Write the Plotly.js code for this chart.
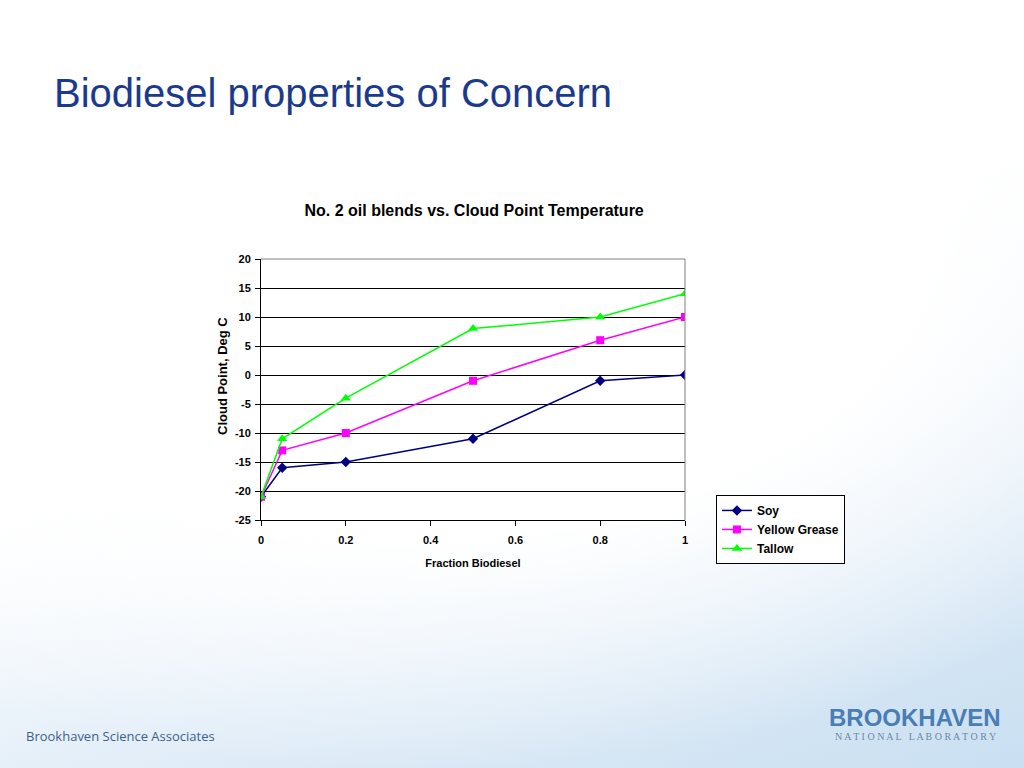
<!DOCTYPE html>
<html>
<head>
<meta charset="utf-8">
<script src="https://cdn.plot.ly/plotly-3.0.1.min.js"></script>
<style>
html,body{margin:0;padding:0;}
body{width:1024px;height:768px;overflow:hidden;
background:
 radial-gradient(ellipse 900px 520px at 420px 250px, rgba(255,255,255,1) 55%, rgba(255,255,255,0) 100%),
 linear-gradient(160deg, #ffffff 0%, #ffffff 45%, #e3eef8 70%, #c9dff1 100%);}
#chart{width:1024px;height:768px;}
</style>
</head>
<body>
<div id="chart"></div>
<script>
const fraction = [0, 0.05, 0.2, 0.5, 0.8, 1];
const soy = [-21, -16, -15, -11, -1, 0];
const yellowGrease = [-21, -13, -10, -1, 6, 10];
const tallow = [-21, -11, -4, 8, 10, 14];
const seriesNames = ["Soy", "Yellow Grease", "Tallow"];
const xTicks = [0, 0.2, 0.4, 0.6, 0.8, 1];
const yTicks = [-25, -20, -15, -10, -5, 0, 5, 10, 15, 20];

const traces = [
  {x: fraction, y: soy, name: seriesNames[0], mode: "lines+markers",
   line: {color: "#000080", width: 1.5}, marker: {symbol: "diamond", size: 8, color: "#000080"}},
  {x: fraction, y: yellowGrease, name: seriesNames[1], mode: "lines+markers",
   line: {color: "#ff00ff", width: 1.5}, marker: {symbol: "square", size: 8, color: "#ff00ff"}},
  {x: fraction, y: tallow, name: seriesNames[2], mode: "lines+markers",
   line: {color: "#00ff00", width: 1.5}, marker: {symbol: "triangle-up", size: 9, color: "#00ff00"}}
];

const font = "Liberation Sans, Arial, sans-serif";
const px = v => (v - 261) / 424;
const py = v => (520 - v) / 261;
const layout = {
  width: 1024, height: 768,
  margin: {l: 261, r: 339, t: 259, b: 248},
  paper_bgcolor: "rgba(0,0,0,0)",
  plot_bgcolor: "#ffffff",
  font: {family: font, size: 11, color: "#000000"},
  showlegend: true,
  title: {text: "<b>No. 2 oil blends vs. Cloud Point Temperature</b>",
          font: {family: font, size: 16, color: "#000"},
          x: 0.463, xanchor: "center", y: 0.726, yanchor: "middle"},
  xaxis: {range: [0, 1], tickvals: xTicks, ticktext: xTicks.map(String),
          showgrid: false, zeroline: false, showline: true, linecolor: "#000", linewidth: 1,
          ticks: "outside", ticklen: 5, tickcolor: "#000", ticklabelstandoff: 5,
          tickfont: {family: font, size: 11, weight: "bold"},
          title: {text: "<b>Fraction Biodiesel</b>", font: {family: font, size: 11}, standoff: 14}},
  yaxis: {range: [-25, 20], tickvals: yTicks, ticktext: yTicks.map(String),
          showgrid: true, gridcolor: "#000000", gridwidth: 1, zeroline: false,
          showline: true, linecolor: "#000", linewidth: 1,
          ticks: "outside", ticklen: 5, tickcolor: "#000", ticklabelstandoff: 2,
          tickfont: {family: font, size: 11, weight: "bold"}},
  legend: {x: 1.073, y: 0.096, xanchor: "left", yanchor: "top",
           bgcolor: "#ffffff", bordercolor: "#000000", borderwidth: 1,
           font: {family: font, size: 12, weight: "bold"}, itemwidth: 30, tracegroupgap: 0},
  shapes: [
    {type: "line", xref: "paper", yref: "paper", x0: 0, x1: 1, y0: 1, y1: 1, line: {color: "#808080", width: 1}},
    {type: "line", xref: "paper", yref: "paper", x0: 1, x1: 1, y0: 0, y1: 1, line: {color: "#808080", width: 1}}
  ],
  annotations: [
    {text: "<b>Cloud Point, Deg C</b>", xref: "paper", yref: "paper", textangle: -90,
     x: px(222), y: py(376), xanchor: "center", yanchor: "middle", showarrow: false,
     font: {family: font, size: 13, color: "#000"}},
    {text: "Biodiesel properties of Concern", xref: "paper", yref: "paper",
     x: px(52), y: py(93), xanchor: "left", yanchor: "middle", showarrow: false,
     font: {family: font, size: 40, color: "#1b3a8c"}},
    {text: "Brookhaven Science Associates", xref: "paper", yref: "paper",
     x: px(24), y: py(736), xanchor: "left", yanchor: "middle", showarrow: false,
     font: {family: "Open Sans, sans-serif", size: 13, color: "#3c5f8c"}},
    {text: "<b>BROOKHAVEN</b>", xref: "paper", yref: "paper",
     x: px(915), y: py(717), xanchor: "center", yanchor: "middle", showarrow: false,
     font: {family: "Liberation Sans Narrow, Liberation Sans, sans-serif", size: 24, color: "#4a7db3"}},
    {text: "N A T I O N A L   L A B O R A T O R Y", xref: "paper", yref: "paper",
     x: px(915), y: py(736), xanchor: "center", yanchor: "middle", showarrow: false,
     font: {family: "Liberation Serif, serif", size: 10, color: "#6b8aa8"}}
  ]
};

Plotly.newPlot("chart", traces, layout, {displayModeBar: false, staticPlot: true});
</script>
</body>
</html>
